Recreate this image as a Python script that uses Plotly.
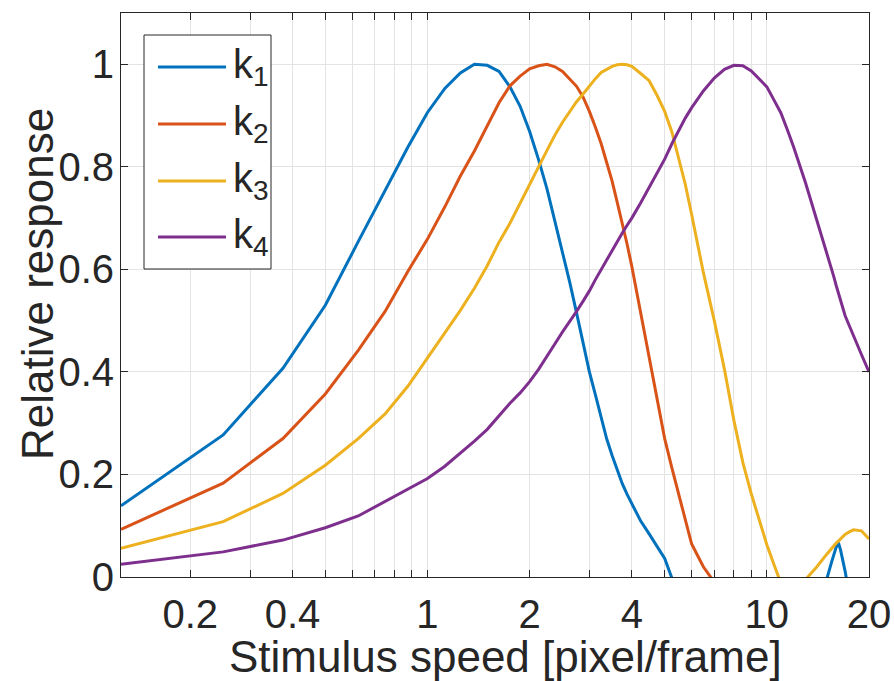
import plotly.graph_objects as go

speed = [0.125, 0.25, 0.375, 0.5, 0.625, 0.75, 0.875, 1.0, 1.125, 1.25, 1.375, 1.5, 1.625, 1.75,
         1.875, 2.0, 2.125, 2.25, 2.375, 2.5, 2.625, 2.75, 2.875, 3.0, 3.125, 3.25, 3.375, 3.5,
         3.625, 3.75, 3.875, 4.0,
         4.25, 4.5, 4.75, 5.0, 5.25, 5.5, 5.75, 6.0, 6.25, 6.5,
         7.0, 7.5, 8.0, 8.5, 9.0, 9.5, 10.0, 10.5, 11.0, 11.5, 12.0,
         13.0, 14.0, 15.0,
         15.5, 15.75, 16.0, 16.25, 16.5, 17.0, 17.5, 18.0, 19.0, 20.0]

k1 = [0.139, 0.277, 0.407, 0.530, 0.654, 0.754, 0.838, 0.906, 0.953, 0.983, 1.0, 0.998, 0.986, 0.956,
      0.918, 0.869, 0.814, 0.757, 0.694, 0.637, 0.575, 0.515, 0.457, 0.400, 0.355, 0.310, 0.269, 0.237,
      0.209, 0.182, 0.161, 0.143,
      0.109, 0.084, 0.060, 0.036, -0.002, -0.028, -0.06, -0.09, -0.115, -0.14,
      -0.17, -0.18, -0.17, -0.15, -0.13, -0.11, -0.09, -0.075, -0.06, -0.05, -0.04,
      -0.025, -0.015, -0.005,
      0.028, 0.043, 0.058, 0.067, 0.052, 0.012, -0.04, -0.08, -0.15, -0.2]

k2 = [0.093, 0.183, 0.270, 0.357, 0.442, 0.518, 0.596, 0.659, 0.722, 0.782, 0.831, 0.880, 0.925, 0.958,
      0.977, 0.991, 0.997, 1.0, 0.995, 0.986, 0.972, 0.957, 0.936, 0.908, 0.877, 0.845, 0.808, 0.772,
      0.730, 0.690, 0.649, 0.606,
      0.515, 0.430, 0.350, 0.270, 0.213, 0.160, 0.115, 0.065, 0.042, 0.020,
      -0.01, -0.04, -0.07, -0.085, -0.1, -0.1, -0.1, -0.095, -0.09, -0.085, -0.08,
      -0.06, -0.05, -0.04,
      -0.035, -0.03, -0.03, -0.03, -0.03, -0.03, -0.03, -0.03, -0.03, -0.03]

k3 = [0.056, 0.108, 0.163, 0.218, 0.270, 0.318, 0.372, 0.426, 0.476, 0.520, 0.563, 0.607, 0.653, 0.690,
      0.730, 0.766, 0.800, 0.832, 0.862, 0.887, 0.907, 0.927, 0.942, 0.958, 0.972, 0.984, 0.991, 0.996,
      0.999, 1.0, 0.999, 0.996,
      0.982, 0.968, 0.939, 0.908, 0.868, 0.815, 0.766, 0.708, 0.647, 0.594,
      0.500, 0.405, 0.305, 0.223, 0.162, 0.110, 0.063, 0.024, -0.012, -0.03, -0.04,
      -0.005, 0.019, 0.044,
      0.056, 0.061, 0.066, 0.070, 0.075, 0.083, 0.088, 0.092, 0.090, 0.074]

k4 = [0.025, 0.049, 0.072, 0.096, 0.119, 0.147, 0.170, 0.192, 0.216, 0.241, 0.265, 0.288, 0.314, 0.339,
      0.359, 0.381, 0.405, 0.432, 0.455, 0.478, 0.498, 0.518, 0.538, 0.558, 0.580, 0.600, 0.618, 0.636,
      0.654, 0.671, 0.686, 0.700,
      0.730, 0.760, 0.788, 0.815, 0.845, 0.872, 0.895, 0.915, 0.932, 0.948,
      0.973, 0.990, 0.998, 0.997, 0.987, 0.972, 0.956, 0.930, 0.905, 0.872, 0.838,
      0.769, 0.700, 0.634,
      0.602, 0.586, 0.569, 0.555, 0.540, 0.510, 0.490, 0.470, 0.434, 0.400]

series_names = ["k<sub>1</sub>", "k<sub>2</sub>", "k<sub>3</sub>", "k<sub>4</sub>"]
series_values = [k1, k2, k3, k4]
colors = ["#0072BD", "#D95319", "#EDB120", "#7E2F8E"]

x_tickvals = [0.2, 0.4, 1, 2, 4, 10, 20]
x_ticktext = ["0.2", "0.4", "1", "2", "4", "10", "20"]
x_minor_tickvals = [0.3, 0.5, 0.6, 0.7, 0.8, 0.9, 3, 5, 6, 7, 8, 9]
y_tickvals = [0, 0.2, 0.4, 0.6, 0.8, 1.0]
y_ticktext = ["0", "0.2", "0.4", "0.6", "0.8", "1"]
x_title = "Stimulus speed [pixel/frame]"
y_title = "Relative response"

FONT = "Liberation Sans, Arial, Helvetica, sans-serif"
AX = "#262626"
GRID = "#e3e3e3"

fig = go.Figure()
for name, vals, c in zip(series_names, series_values, colors):
    fig.add_trace(go.Scatter(x=speed, y=vals, mode="lines", name=name,
                             line=dict(color=c, width=3), showlegend=False))

W, H = 894, 681
ml, mr, mt, mb = 121, 25, 13, 104
pw, ph = W - ml - mr, H - mt - mb

def px(xp):
    return (xp - ml) / pw

def py(yp):
    return (H - mb - yp) / ph

shapes = [dict(type="rect", xref="paper", yref="paper",
               x0=px(144), x1=px(271), y0=py(269), y1=py(35),
               line=dict(color=AX, width=1), fillcolor="white", layer="above")]
annotations = []
legend_y = [67, 124, 181, 237]
for name, c, ly in zip(series_names, colors, legend_y):
    shapes.append(dict(type="line", xref="paper", yref="paper",
                       x0=px(158), x1=px(226), y0=py(ly), y1=py(ly),
                       line=dict(color=c, width=3), layer="above"))
    annotations.append(dict(xref="paper", yref="paper", x=px(231), y=py(ly),
                            xanchor="left", yanchor="middle", text=name, showarrow=False,
                            font=dict(family=FONT, size=40, color=AX)))

# axis titles
annotations.append(dict(xref="paper", yref="paper", x=px(505), y=py(656),
                        xanchor="center", yanchor="middle", text=x_title, showarrow=False,
                        borderpad=0, font=dict(family=FONT, size=44, color=AX)))
annotations.append(dict(xref="paper", yref="paper", x=px(37), y=py(284),
                        xanchor="center", yanchor="middle", text=y_title, showarrow=False,
                        textangle=-90, font=dict(family=FONT, size=44, color=AX)))

fig.update_layout(
    width=W, height=H, autosize=False,
    margin=dict(l=ml, r=mr, t=mt, b=mb, autoexpand=False),
    paper_bgcolor="white", plot_bgcolor="white",
    font=dict(family=FONT, color=AX),
    shapes=shapes, annotations=annotations,
    xaxis=dict(type="log", range=[-0.90309, 1.30103], automargin=False,
               tickmode="array", tickvals=x_tickvals, ticktext=x_ticktext,
               ticks="inside", ticklen=7, tickcolor=AX, tickwidth=1,
               minor=dict(tickmode="array", tickvals=x_minor_tickvals, ticks="inside",
                          ticklen=7, tickcolor=AX, tickwidth=1,
                          showgrid=True, gridcolor=GRID, gridwidth=1),
               showline=True, linecolor=AX, linewidth=1, mirror="allticks",
               showgrid=True, gridcolor=GRID, gridwidth=1, zeroline=False,
               tickfont=dict(size=40, family=FONT, color=AX),
               ticklabelstandoff=2),
    yaxis=dict(range=[0, 1.1], tickvals=y_tickvals, ticktext=y_ticktext, automargin=False,
               ticks="inside", ticklen=7, tickcolor=AX, tickwidth=1,
               showline=True, linecolor=AX, linewidth=1, mirror="allticks",
               showgrid=True, gridcolor=GRID, gridwidth=1, zeroline=False,
               tickfont=dict(size=40, family=FONT, color=AX),
               ticklabelstandoff=-2),
)

fig.write_html("out.html", config={"responsive": False, "displayModeBar": False},
               post_script="document.body.style.margin='0';document.body.style.overflow='hidden';")
